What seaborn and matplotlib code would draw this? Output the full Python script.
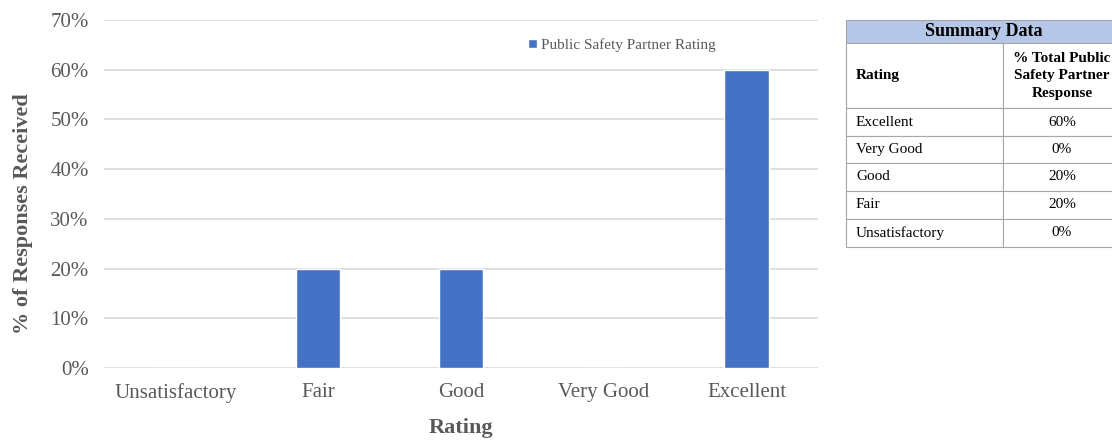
import matplotlib
matplotlib.use("Agg")
import matplotlib.pyplot as plt
from matplotlib.patches import Rectangle
import seaborn as sns
import pandas as pd

# Survey results
ratings = ["Unsatisfactory", "Fair", "Good", "Very Good", "Excellent"]
percent = [0, 20, 20, 0, 60]
series_name = "Public Safety Partner Rating"
y_ticks = [0, 10, 20, 30, 40, 50, 60, 70]

table_title = "Summary Data"
table_headers = ["Rating", "% Total Public\nSafety Partner\nResponse"]

BAR = "#4472C4"
GRID = "#D9D9D9"
TXT = "#595959"
BORDER = "#A6A6A6"
HEAD_BG = "#B4C7E7"

sns.set_theme(style="white")
plt.rcParams["font.family"] = ["Liberation Serif", "DejaVu Serif"]

df = pd.DataFrame({"Rating": ratings, "Percent": percent})

fig = plt.figure(figsize=(11.12, 4.41), dpi=100)
W, H = 1112, 441
ax = fig.add_axes([104 / W, (H - 368) / H, (818 - 104) / W, (368 - 20) / H])

sns.barplot(data=df, x="Rating", y="Percent", order=ratings, color=BAR,
            saturation=1, width=0.31, label=series_name, ax=ax)

ax.set_ylim(0, 70)
ax.set_xlim(-0.5, len(ratings) - 0.5)
ax.set_yticks(y_ticks)
ax.set_yticklabels([f"{v}%" for v in y_ticks])
ax.yaxis.grid(True, color=GRID, linewidth=1.2)
ax.set_axisbelow(True)
for s in ax.spines.values():
    s.set_visible(False)
ax.tick_params(axis="both", length=0, labelsize=15, colors=TXT)
ax.tick_params(axis="y", pad=11)
ax.tick_params(axis="x", pad=11)
ax.set_xlabel("Rating", fontsize=16, fontweight="bold", color=TXT, labelpad=11)
ax.set_ylabel("% of Responses Received", fontsize=16, fontweight="bold",
              color=TXT)
ax.yaxis.set_label_coords(-0.1, 0.445)

leg = ax.legend(loc="center left", bbox_to_anchor=(0.594, 0.928), frameon=False,
                fontsize=11, handlelength=0.55, handleheight=0.55,
                handletextpad=0.3, borderpad=0, borderaxespad=0)
for t in leg.get_texts():
    t.set_color(TXT)

# Summary table drawn in figure pixel space
tax = fig.add_axes([0, 0, 1, 1], facecolor="none")
tax.set_xlim(0, W)
tax.set_ylim(H, 0)
tax.axis("off")

x0, xdiv, x1 = 846, 1003, 1121
row_edges = [20, 43, 108, 136, 163, 191, 219, 247]

tax.add_patch(Rectangle((x0, row_edges[0]), x1 - x0, row_edges[1] - row_edges[0],
                        facecolor=HEAD_BG, edgecolor=BORDER, linewidth=0.8))
tax.text((x0 + x1) / 2, (row_edges[0] + row_edges[1]) / 2, table_title,
         ha="center", va="center", fontsize=13, fontweight="bold", color="#000000")

body = list(zip(ratings, percent))[::-1]
rows = [(table_headers[0], table_headers[1], True)] + \
       [(name, f"{val}%", False) for name, val in body]
for i, (c1, c2, bold) in enumerate(rows):
    top, bot = row_edges[i + 1], row_edges[i + 2]
    tax.add_patch(Rectangle((x0, top), xdiv - x0, bot - top, facecolor="white",
                            edgecolor=BORDER, linewidth=0.8))
    tax.add_patch(Rectangle((xdiv, top), x1 - xdiv, bot - top, facecolor="white",
                            edgecolor=BORDER, linewidth=0.8))
    mid = (top + bot) / 2
    tax.text(x0 + 10, mid, c1, ha="left", va="center", fontsize=11,
             fontweight="bold" if bold else "normal", color="#000000")
    tax.text((xdiv + x1) / 2, mid, c2, ha="center", va="center", fontsize=11,
             fontweight="bold" if bold else "normal", color="#000000",
             linespacing=1.45)

fig.savefig("out.png", dpi=100)
